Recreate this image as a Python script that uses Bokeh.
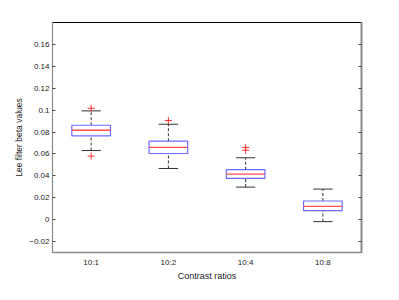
import numpy as np
from bokeh.plotting import figure
from bokeh.models import Range1d, FixedTicker, LinearAxis
from bokeh.embed import file_html
from bokeh.resources import INLINE

# ---- data ----
categories = ["10:1", "10:2", "10:4", "10:8"]
q1 = [0.0765, 0.0604, 0.0376, 0.0082]
medians = [0.0816, 0.0659, 0.0415, 0.0121]
q3 = [0.0862, 0.0716, 0.0456, 0.0170]
lower_whisker = [0.0631, 0.0467, 0.0297, -0.0018]
upper_whisker = [0.0993, 0.0871, 0.0565, 0.0279]
outlier_group = ["10:1", "10:1", "10:2", "10:4", "10:4"]
outlier_values = [0.1017, 0.0580, 0.0905, 0.0659, 0.0634]
y_ticks = [-0.02, 0, 0.02, 0.04, 0.06, 0.08, 0.1, 0.12, 0.14, 0.16]
y_tick_labels = ["\u22120.02", "0", "0.02", "0.04", "0.06", "0.08", "0.1", "0.12", "0.14", "0.16"]
x_label = "Contrast ratios"
y_label = "Lee filter beta values"

# ---- styling ----
FONT = "Liberation Sans"
BOX_COLOR = "#6a6aff"
MED_COLOR = "#ff5050"
WHISK_COLOR = "#333333"
OUT_COLOR = "#ff3030"
AXIS_COLOR = "#8a8a8a"
box_w = 0.5
cap_w = 0.25

n = len(categories)
pos = np.arange(1, n + 1, dtype=float)
out_x = [pos[categories.index(g)] for g in outlier_group]

p = figure(width=391, height=292, output_backend="svg", toolbar_location=None,
           x_range=Range1d(0.5, n + 0.5), y_range=Range1d(-0.03, 0.18),
           min_border_left=52, min_border_right=30, min_border_top=22, min_border_bottom=40)

p.xgrid.visible = False
p.ygrid.visible = False
p.outline_line_color = "black"
p.outline_line_width = 1
p.background_fill_color = "white"
p.border_fill_color = "white"

# whiskers (dashed)
p.segment(x0=pos, y0=q3, x1=pos, y1=upper_whisker, line_color=WHISK_COLOR,
          line_width=1, line_dash="3 2")
p.segment(x0=pos, y0=lower_whisker, x1=pos, y1=q1, line_color=WHISK_COLOR,
          line_width=1, line_dash="3 2")
# caps
p.segment(x0=pos - cap_w / 2, y0=upper_whisker, x1=pos + cap_w / 2, y1=upper_whisker,
          line_color=WHISK_COLOR, line_width=1)
p.segment(x0=pos - cap_w / 2, y0=lower_whisker, x1=pos + cap_w / 2, y1=lower_whisker,
          line_color=WHISK_COLOR, line_width=1)
# boxes
p.vbar(x=pos, width=box_w, bottom=q1, top=q3, fill_color="white",
       line_color=BOX_COLOR, line_width=1.2)
# medians
p.segment(x0=pos - box_w / 2, y0=medians, x1=pos + box_w / 2, y1=medians,
          line_color=MED_COLOR, line_width=1.3)
# outliers
p.scatter(x=out_x, y=outlier_values, marker="cross", size=7,
          line_color=OUT_COLOR, line_width=1)

# x axis
xa = p.xaxis[0]
xa.ticker = FixedTicker(ticks=list(pos))
xa.major_label_overrides = {float(v): c for v, c in zip(pos, categories)}
xa.major_tick_in = 0
xa.major_tick_out = 0
xa.minor_tick_line_color = None
xa.axis_line_color = AXIS_COLOR
xa.axis_line_width = 1.5
xa.major_label_text_font = FONT
xa.major_label_text_font_size = "8px"
xa.major_label_text_color = "#222222"
xa.major_label_standoff = 5
xa.axis_label = x_label
xa.axis_label_text_font = FONT
xa.axis_label_text_font_size = "9px"
xa.axis_label_text_font_style = "normal"
xa.axis_label_text_color = "#222222"
xa.axis_label_standoff = 1

# y axis
ya = p.yaxis[0]
ya.ticker = FixedTicker(ticks=y_ticks)
ya.major_label_overrides = {v: s for v, s in zip(y_ticks, y_tick_labels)}
ya.major_tick_in = 3
ya.major_tick_out = 0
ya.major_tick_line_color = "#444444"
ya.minor_tick_line_color = None
ya.axis_line_color = AXIS_COLOR
ya.axis_line_width = 1.2
ya.major_label_text_font = FONT
ya.major_label_text_font_size = "8px"
ya.major_label_text_color = "#222222"
ya.major_label_standoff = 3
ya.axis_label = y_label
ya.axis_label_text_font = FONT
ya.axis_label_text_font_size = "8.5px"
ya.axis_label_text_font_style = "normal"
ya.axis_label_text_color = "#222222"
ya.axis_label_standoff = 2

# right axis (ticks only)
ra = LinearAxis(ticker=FixedTicker(ticks=y_ticks))
ra.major_label_overrides = {v: "" for v in y_ticks}
ra.major_label_text_font_size = "1px"
ra.major_label_standoff = 0
ra.major_tick_in = 3
ra.major_tick_out = 0
ra.major_tick_line_color = "#444444"
ra.minor_tick_line_color = None
ra.axis_line_color = AXIS_COLOR
ra.axis_line_width = 2
p.add_layout(ra, "right")

open("out.html", "w").write(file_html(p, INLINE))
